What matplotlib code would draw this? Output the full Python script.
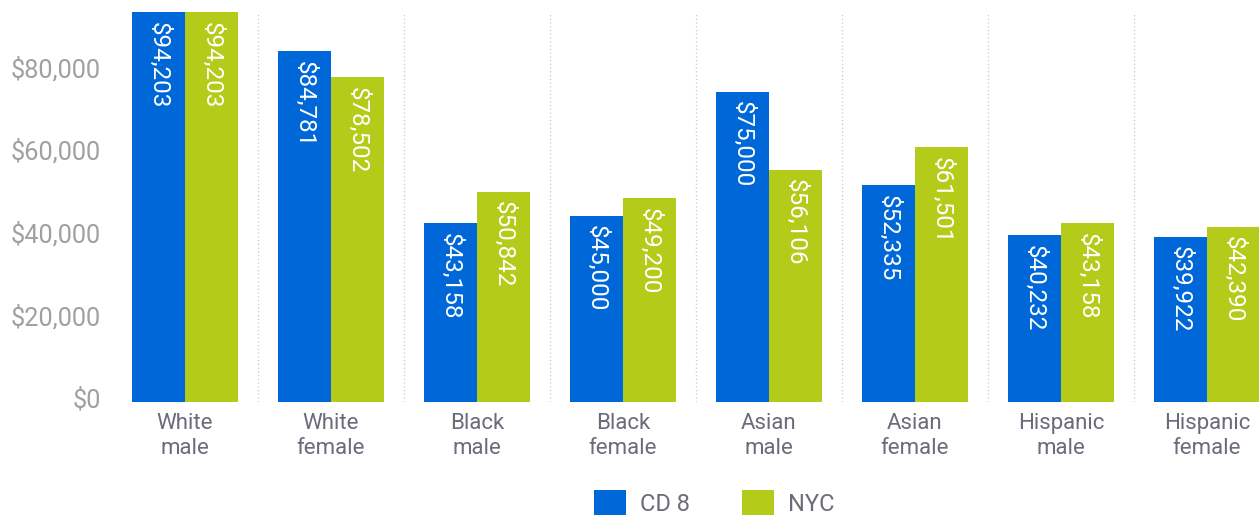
import numpy as np
import matplotlib.pyplot as plt
import matplotlib.transforms as mtransforms

plt.rcParams['font.family'] = ['Roboto', 'DejaVu Sans']

categories = ['White\nmale', 'White\nfemale', 'Black\nmale', 'Black\nfemale',
              'Asian\nmale', 'Asian\nfemale', 'Hispanic\nmale', 'Hispanic\nfemale']
cd8 = [94203, 84781, 43158, 45000, 75000, 52335, 40232, 39922]
nyc = [94203, 78502, 50842, 49200, 56106, 61501, 43158, 42390]
yticks = [0, 20000, 40000, 60000, 80000]

blue = '#0067d8'
green = '#b4cb1a'

fig = plt.figure(figsize=(12.59, 5.18), dpi=100)
ax = fig.add_axes([112 / 1259, 116 / 518, 1168 / 1259, 390 / 518])

x = np.arange(len(categories))
w = 0.363
b1 = ax.bar(x - w / 2, cd8, w, color=blue, label='CD 8')
b2 = ax.bar(x + w / 2, nyc, w, color=green, label='NYC')

# value labels written downward inside the top of each bar
for bars, vals in ((b1, cd8), (b2, nyc)):
    for rect, v in zip(bars, vals):
        ax.text(rect.get_x() + rect.get_width() / 2, v - 2300, f'${v:,}',
                rotation=-90, ha='center', va='top', color='white',
                fontsize=17.5)

# dotted separators between groups
for sep in x[:-1] + 0.5:
    ax.axvline(sep, color='#c8c8c8', linestyle=(0, (1, 2)), linewidth=0.9)

ax.set_xlim(-0.5, len(categories) - 0.5)
ax.set_ylim(0, max(cd8))
ax.set_xticks(x)
ax.set_xticklabels(categories, fontsize=16, color='#6b6b7b', linespacing=1.25)
ax.set_yticks(yticks)
ax.set_yticklabels([f'${t:,}' for t in yticks], fontsize=18.2, color='#a0a0a0')
ax.tick_params(length=0, pad=8)
ax.tick_params(axis='y', pad=8)
lift = mtransforms.ScaledTranslation(0, 4 / 100, fig.dpi_scale_trans)
for lbl in ax.get_yticklabels():
    lbl.set_transform(lbl.get_transform() + lift)
for s in ax.spines.values():
    s.set_visible(False)

fig.legend(loc='center', bbox_to_anchor=(714 / 1259, 1 - 503 / 518), ncol=2,
           frameon=False, fontsize=17, handlelength=1.35, handleheight=1.2,
           handletextpad=0.6, columnspacing=2.2, labelcolor='#6b6b7b')

fig.savefig('out.png', dpi=100)
